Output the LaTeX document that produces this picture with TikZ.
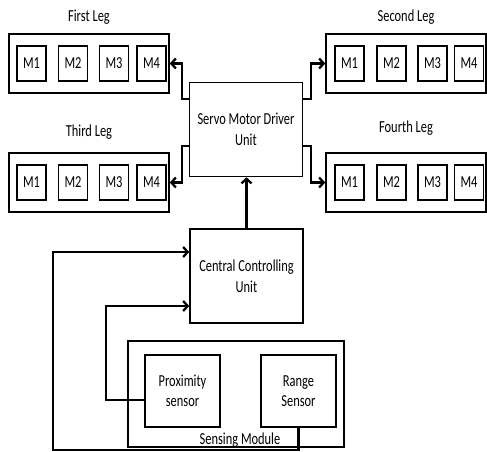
\documentclass[tikz,border=0pt]{standalone}
\usepackage{fontspec}
\setmainfont{Carlito}[FakeStretch=0.74]
\usetikzlibrary{positioning,arrows.meta}

\begin{document}
\begin{tikzpicture}[
	x=1pt,y=-1pt,
	every text node part/.style={align=center},
	font=\fontsize{16.8}{20.5}\selectfont,
	blk/.style={draw,line width=1.6pt,inner sep=0},
	mot/.style={blk,minimum width=29pt,minimum height=35pt},
	leg/.style={blk,minimum width=160pt,minimum height=59pt},
	unit/.style={blk,minimum width=113pt,minimum height=94pt},
	sens/.style={blk,minimum width=75pt,minimum height=72pt},
	lbl/.style={inner sep=0},
	arr/.style={line width=2.3pt,-{Straight Barb[length=4.5pt,width=10pt]}},
]
\useasboundingbox (0,0) rectangle (487,452);
% legs
\node[leg] (first) at (89,63.5) {};
\node[leg] (third) at (89,182.5) {};
\node[leg] (second) at (406,63.5) {};
\node[leg] (fourth) at (406,182.5) {};
\node[lbl,above=9pt of first] (firstlbl) {First Leg};
\node[lbl,above=9pt of second] (secondlbl) {Second Leg};
\node[lbl,above=13pt of third] (thirdlbl) {Third Leg};
\node[lbl,above=17pt of fourth] (fourthlbl) {Fourth Leg};
\node[mot] (a1) at (31.5,63.5) {M1};
\node[mot] (a2) at (73,63.5) {M2};
\node[mot] (a3) at (114,63.5) {M3};
\node[mot] (a4) at (151.5,63.5) {M4};
\node[mot] (c1) at (31.5,182.5) {M1};
\node[mot] (c2) at (73,182.5) {M2};
\node[mot] (c3) at (114,182.5) {M3};
\node[mot] (c4) at (151.5,182.5) {M4};
\node[mot] (b1) at (349.5,63.5) {M1};
\node[mot] (b2) at (391.5,63.5) {M2};
\node[mot] (b3) at (432.5,63.5) {M3};
\node[mot] (b4) at (469,63.5) {M4};
\node[mot] (d1) at (349.5,182.5) {M1};
\node[mot] (d2) at (391.5,182.5) {M2};
\node[mot] (d3) at (432.5,182.5) {M3};
\node[mot] (d4) at (469,182.5) {M4};
% units
\node[unit] (servo) at (246,129.5) {Servo Motor Driver\\Unit};
\node[unit] (central) at (246.5,276) {Central Controlling\\Unit};
\node[blk,minimum width=216pt,minimum height=106pt] (module) at (236,394) {};
\node[sens] (prox) at (182.5,391) {Proximity\\sensor};
\node[sens] (range) at (298.5,391) {Range\\Sensor};
\node[lbl,anchor=base] (modlbl) at (240,444) {Sensing Module};
% connections
\draw[arr] (servo.west |- 0,99) -- ++(-7,0) |- (first.east);
\draw[arr] (servo.west |- 0,146) -- ++(-7,0) |- (third.east);
\draw[arr] (servo.east |- 0,99) -- ++(8,0) |- (second.west);
\draw[arr] (servo.east |- 0,146) -- ++(8,0) |- (fourth.west);
\draw[arr] (central.north) -- (central.north |- servo.south);
\draw[arr] (prox.west |- 0,400) -- ++(-38,0) |- (central.west |- 0,306);
\coordinate (loop) at (53,450);
\draw[arr] (range.south) |- (loop) |- (central.west |- 0,252);
\end{tikzpicture}
\end{document}
